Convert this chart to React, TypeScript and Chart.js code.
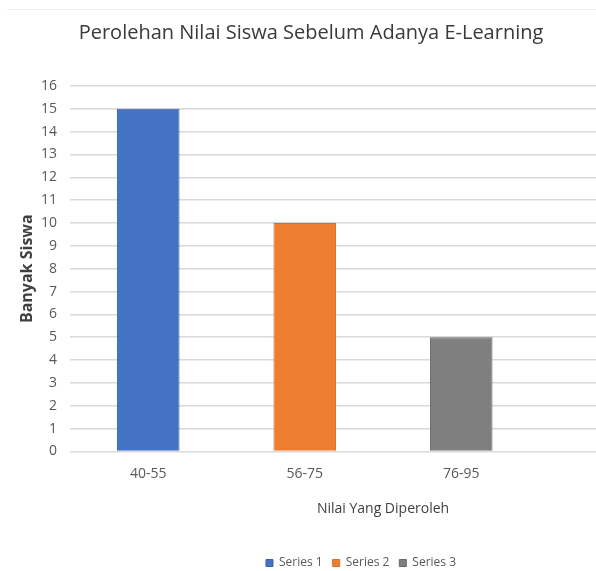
import React, { useEffect, useRef } from 'react';
import { Chart, registerables } from 'chart.js';

Chart.register(...registerables);

const chartTitle = 'Perolehan Nilai Siswa Sebelum Adanya E-Learning';
const categories = ['40-55', '56-75', '76-95', ''];
const seriesNames = ['Series 1', 'Series 2', 'Series 3'];
const seriesValues = [15, 10, 5];
const seriesColors = ['#4472C4', '#ED7D31', '#7F7F7F'];
const seriesBorders = ['#3A63AE', '#D76C24', '#6A6A6A'];
const yMin = 0;
const yMax = 16;
const yStep = 1;
const xAxisTitle = 'Nilai Yang Diperoleh';
const yAxisTitle = 'Banyak Siswa';

const FONT = '"Open Sans", "Noto Sans", sans-serif';

const titlePlugin = {
  id: 'customTitle',
  afterDraw(chart: any) {
    const ctx = chart.ctx;
    ctx.save();
    ctx.strokeStyle = '#ececec';
    ctx.lineWidth = 1;
    ctx.beginPath();
    ctx.moveTo(7, 9.5);
    ctx.lineTo(chart.width, 9.5);
    ctx.stroke();
    ctx.font = `20px ${FONT}`;
    ctx.fillStyle = '#3a3a3a';
    ctx.textAlign = 'center';
    ctx.textBaseline = 'middle';
    ctx.fillText(chartTitle, 311, 33);
    ctx.restore();
  },
};

export default function App() {
  const ref = useRef<HTMLCanvasElement | null>(null);

  useEffect(() => {
    if (!ref.current) return;
    const datasets = seriesNames.map((name, i) => ({
      label: name,
      data: categories.map((_, j) => (j === i ? seriesValues[i] : null)),
      backgroundColor: seriesColors[i],
      borderColor: seriesBorders[i],
      borderWidth: 1,
      grouped: false,
      barPercentage: 0.4,
      categoryPercentage: 1,
    }));
    const chart = new Chart(ref.current, {
      type: 'bar',
      data: { labels: categories, datasets },
      plugins: [titlePlugin],
      options: {
        animation: false,
        responsive: false,
        maintainAspectRatio: false,
        layout: { padding: { left: 26, right: 0, top: 86, bottom: 0 } },
        font: { family: FONT },
        plugins: {
          title: { display: false },
          tooltip: { enabled: false },
          legend: {
            position: 'bottom',
            labels: {
              boxWidth: 7,
              boxHeight: 7,
              padding: 10,
              color: '#595959',
              font: { family: FONT, size: 12 },
            },
          },
        },
        scales: {
          x: {
            grid: { display: false, drawTicks: false },
            border: { display: false },
            ticks: { color: '#595959', padding: 14, font: { family: FONT, size: 14 } },
            title: {
              display: true,
              text: xAxisTitle,
              color: '#404040',
              font: { family: FONT, size: 14 },
              padding: { top: 4, bottom: 30 },
            },
          },
          y: {
            min: yMin,
            max: yMax,
            grid: { color: '#d9d9d9', lineWidth: 1.5, drawTicks: false },
            border: { display: false },
            ticks: { stepSize: yStep, color: '#595959', padding: 13, font: { family: FONT, size: 14 } },
            title: {
              display: true,
              text: yAxisTitle,
              color: '#404040',
              font: { family: FONT, size: 16, weight: 'bold' },
              padding: { top: -8, bottom: 0 },
            },
            afterFit(scale: any) {
              scale.width = 44;
            },
          },
        },
      } as any,
    });
    return () => chart.destroy();
  }, []);

  return (
    <div style={{ position: 'fixed', left: 0, top: 0, width: 596, height: 571, overflow: 'hidden', background: '#fff' }}>
      <canvas ref={ref} width={696} height={579} style={{ display: 'block', width: 696, height: 579 }} />
    </div>
  );
}
